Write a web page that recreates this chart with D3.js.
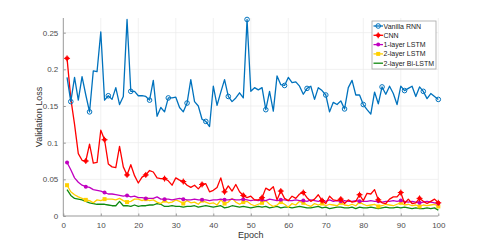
<!DOCTYPE html>
<html><head><meta charset="utf-8">
<script src="https://cdn.jsdelivr.net/npm/d3@7/dist/d3.min.js"></script>
<style>html,body{margin:0;padding:0;background:#fff;}svg{display:block;}</style>
</head><body><svg id="c" width="485" height="243"></svg>
<script>
const epochs = d3.range(1, 101);
const vanillaRNN = [.189,.156,.189,.158,.190,.165,.142,.198,.197,.251,.158,.164,.159,.175,.152,.163,.268,.170,.170,.164,.164,.163,.158,.185,.136,.148,.142,.161,.161,.162,.148,.142,.154,.186,.156,.150,.132,.129,.122,.177,.151,.169,.186,.163,.156,.161,.168,.161,.268,.170,.175,.172,.175,.145,.170,.143,.191,.179,.178,.189,.182,.183,.177,.166,.174,.177,.159,.175,.171,.165,.142,.155,.152,.157,.146,.175,.185,.165,.165,.152,.145,.139,.169,.153,.176,.166,.177,.167,.152,.177,.171,.174,.177,.163,.176,.170,.160,.167,.163,.159];
const cnn = [.215,.160,.125,.085,.076,.075,.098,.072,.073,.117,.104,.071,.067,.066,.095,.067,.056,.070,.055,.045,.053,.056,.062,.060,.052,.051,.051,.048,.042,.052,.049,.047,.042,.039,.042,.037,.043,.044,.033,.035,.039,.052,.033,.041,.034,.043,.033,.028,.025,.027,.022,.022,.025,.038,.035,.040,.022,.034,.024,.021,.027,.024,.030,.032,.025,.020,.023,.029,.021,.017,.027,.022,.021,.023,.017,.022,.019,.020,.029,.021,.031,.030,.036,.022,.018,.017,.023,.026,.026,.032,.017,.023,.017,.018,.024,.020,.017,.020,.023,.018];
const lstm1 = [.073,.063,.052,.046,.042,.040,.039,.036,.035,.034,.032,.030,.030,.029,.028,.027,.028,.026,.027,.025,.025,.024,.024,.024,.026,.023,.023,.023,.022,.023,.024,.023,.022,.022,.023,.022,.022,.022,.021,.022,.022,.023,.022,.022,.023,.022,.022,.023,.022,.021,.022,.021,.022,.021,.023,.022,.021,.022,.022,.021,.021,.022,.021,.021,.020,.022,.021,.020,.021,.020,.022,.020,.021,.020,.021,.020,.020,.021,.020,.020,.020,.021,.020,.020,.019,.020,.020,.021,.020,.021,.020,.019,.020,.019,.018,.019,.020,.019,.018,.017];
const lstm2 = [.042,.033,.029,.026,.024,.022,.021,.018,.022,.021,.023,.023,.023,.022,.024,.021,.019,.020,.023,.023,.021,.023,.021,.022,.019,.017,.021,.018,.019,.022,.020,.017,.021,.018,.019,.016,.021,.019,.017,.018,.015,.022,.017,.019,.024,.019,.016,.019,.020,.016,.014,.016,.018,.021,.016,.013,.015,.019,.016,.012,.017,.015,.020,.018,.015,.013,.017,.015,.017,.014,.016,.015,.014,.018,.015,.014,.016,.014,.019,.016,.014,.015,.016,.013,.014,.016,.015,.014,.016,.018,.015,.016,.014,.015,.013,.015,.014,.015,.016,.013];
const biLstm = [.036,.028,.024,.023,.022,.020,.018,.017,.016,.016,.016,.015,.014,.014,.020,.014,.014,.013,.015,.013,.014,.014,.015,.015,.017,.016,.013,.013,.014,.013,.013,.012,.013,.013,.014,.012,.013,.014,.013,.012,.013,.014,.011,.012,.014,.013,.012,.013,.012,.011,.012,.013,.012,.013,.011,.012,.013,.011,.012,.012,.011,.012,.013,.012,.011,.011,.012,.013,.011,.012,.010,.011,.012,.012,.011,.011,.012,.010,.012,.011,.011,.012,.011,.010,.011,.012,.011,.011,.012,.011,.012,.011,.010,.011,.010,.010,.011,.010,.011,.008];
const blueMarkerEpochs = [2,7,12,18,23,28,33,38,44,49,54,59,65,70,75,80,85,91,96,100];
const otherMarkerEpochs = [1,6,11,17,22,27,32,37,43,48,53,58,64,69,74,79,84,90,95,100];
const seriesNames = ["Vanilla RNN","CNN","1-layer LSTM","2-layer LSTM","2-layer Bi-LSTM"];
const xTicks = [0,10,20,30,40,50,60,70,80,90,100];
const yTicks = [0,0.05,0.1,0.15,0.2,0.25];
const xLabel = "Epoch", yLabel = "Validation Loss";

const series = [
  {name: seriesNames[0], values: vanillaRNN, color: "#0072BD", marker: "circle", idx: blueMarkerEpochs},
  {name: seriesNames[1], values: cnn, color: "#FF0000", marker: "star", idx: otherMarkerEpochs},
  {name: seriesNames[2], values: lstm1, color: "#C000C0", marker: "dot", idx: otherMarkerEpochs},
  {name: seriesNames[3], values: lstm2, color: "#FFD000", marker: "square", idx: otherMarkerEpochs},
  {name: seriesNames[4], values: biLstm, color: "#0F8A0F", marker: "none", idx: []}
];

const svg = d3.select("#c");
const L = 63.3, R = 438.3, T = 18, B = 216;
const x = d3.scaleLinear().domain([0,100]).range([L,R]);
const y = d3.scaleLinear().domain([0,0.27]).range([B,T]);
const font = "'Liberation Sans', Arial, Helvetica, sans-serif";
const tickColor = "#4d4d4d";

// grid
const g = svg.append("g");
g.selectAll(".vg").data(xTicks.filter(d=>d>0)).enter().append("line")
  .attr("x1", d=>x(d)).attr("x2", d=>x(d)).attr("y1", T).attr("y2", B)
  .attr("stroke", "#ebebeb").attr("stroke-width", 0.7);
g.selectAll(".hg").data(yTicks.filter(d=>d>0)).enter().append("line")
  .attr("x1", L).attr("x2", R).attr("y1", d=>y(d)).attr("y2", d=>y(d))
  .attr("stroke", "#ebebeb").attr("stroke-width", 0.7);

// axes
const xAxis = d3.axisBottom(x).tickValues(xTicks).tickSize(-2.5).tickPadding(6).tickFormat(d3.format("d"));
const yAxis = d3.axisLeft(y).tickValues(yTicks).tickSize(-2.5).tickPadding(5).tickFormat(d=>d===0?"0":String(+d.toFixed(2)));
const gx = svg.append("g").attr("transform", `translate(0,${B})`).call(xAxis);
const gy = svg.append("g").attr("transform", `translate(${L},0)`).call(yAxis);
[gx, gy].forEach(a => {
  a.select(".domain").attr("stroke", "#999").attr("stroke-width", 1);
  a.selectAll(".tick line").attr("stroke", "#999");
  a.selectAll(".tick text").attr("fill", tickColor).style("font-family", font).style("font-size", "8px");
});
gx.select(".domain").attr("d", `M${L},0H${R}`);
gy.select(".domain").attr("d", `M0,${T}V${B}`);

svg.append("text").attr("x", (L+R)/2).attr("y", 238).attr("text-anchor","middle")
  .attr("fill", "#333").style("font-family", font).style("font-size","9px").text(xLabel);
svg.append("text").attr("transform", `translate(42,${(T+B)/2}) rotate(-90)`).attr("text-anchor","middle")
  .attr("fill", "#333").style("font-family", font).style("font-size","9px").text(yLabel);

function drawMarker(sel, type, color, cx, cy) {
  if (type === "circle") {
    sel.append("circle").attr("cx", cx).attr("cy", cy).attr("r", 2.3)
      .attr("fill", "none").attr("stroke", color).attr("stroke-width", 1);
  } else if (type === "star") {
    sel.append("circle").attr("cx", cx).attr("cy", cy).attr("r", 2.1).attr("fill", color);
    sel.append("path").attr("d", `M${cx-3},${cy}H${cx+3}M${cx},${cy-3}V${cy+3}`)
      .attr("stroke", color).attr("stroke-width", 1);
  } else if (type === "dot") {
    sel.append("circle").attr("cx", cx).attr("cy", cy).attr("r", 2).attr("fill", color);
  } else if (type === "square") {
    sel.append("rect").attr("x", cx-2).attr("y", cy-2).attr("width", 4).attr("height", 4).attr("fill", color);
  }
}

const line = d3.line().x((d,i)=>x(epochs[i])).y(d=>y(d));
const order = [4,3,2,1,0];
order.forEach(k => {
  const s = series[k];
  const sg = svg.append("g");
  sg.append("path").attr("d", line(s.values)).attr("fill","none")
    .attr("stroke", s.color).attr("stroke-width", 1.3).attr("stroke-linejoin","round");
  s.idx.forEach(e => drawMarker(sg, s.marker, s.color, x(e), y(s.values[e-1])));
});

// legend
const lg = svg.append("g");
lg.append("rect").attr("x", 372).attr("y", 21).attr("width", 64).attr("height", 48)
  .attr("fill", "#fff").attr("stroke", "#a6a6a6").attr("stroke-width", 0.8);
series.forEach((s, i) => {
  const yy = 26 + i * 9.3;
  lg.append("line").attr("x1", 373.5).attr("x2", 383).attr("y1", yy).attr("y2", yy)
    .attr("stroke", s.color).attr("stroke-width", 1.3);
  drawMarker(lg, s.marker, s.color, 378.2, yy);
  lg.append("text").attr("x", 383.5).attr("y", yy + 2.5).attr("fill", "#222")
    .style("font-family", font).style("font-size", "7px").text(s.name);
});
</script></body></html>
